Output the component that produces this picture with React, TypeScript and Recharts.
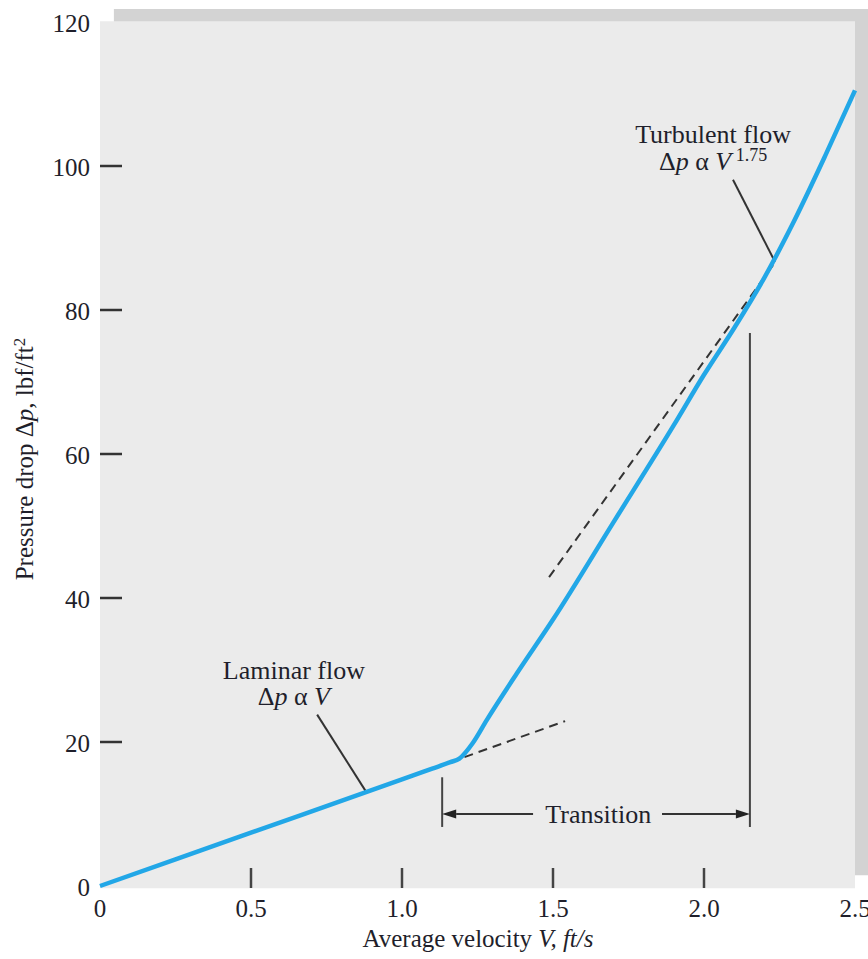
import React from 'react';
import { LineChart, Line, XAxis, YAxis, ReferenceArea, ReferenceLine, ReferenceDot } from 'recharts';

// Measured pipe-flow curve: velocity (ft/s) vs pressure drop (lbf/ft²)
const velocity = [0, 0.5, 1.0, 1.1, 1.16, 1.19, 1.235, 1.28, 1.38, 1.5, 1.7, 1.9, 2.0, 2.1, 2.2, 2.3, 2.4, 2.5];
const pressureDrop = [0, 7.4, 14.8, 16.3, 17.2, 17.7, 19.9, 23, 29.5, 37, 50.5, 64, 71, 77.5, 84.5, 92.5, 101.3, 110.5];

const xTicks = [0, 0.5, 1.0, 1.5, 2.0, 2.5];
const xTickLabels = ['0', '0.5', '1.0', '1.5', '2.0', '2.5'];
const yTicks = [0, 20, 40, 60, 80, 100, 120];

// dashed asymptotes for the two regimes
const laminarAsymptote = [{ v: 1.16, dp: 17.2 }, { v: 1.54, dp: 22.9 }];
const turbulentAsymptote = [{ v: 1.487, dp: 42.9 }, { v: 2.235, dp: 86.6 }];

// callout leaders
const laminarLeader = [{ v: 0.719, dp: 23.8 }, { v: 0.884, dp: 12.9 }];
const turbulentLeader = [{ v: 2.096, dp: 98.1 }, { v: 2.235, dp: 86.7 }];

// transition bracket
const transitionStart = 1.133;
const transitionEnd = 2.152;
const transitionStartTop = 15.1;
const transitionEndTop = 76.8;
const bracketBottom = 8.2;
const arrowLevel = 10;
const arrowInnerLeft = 1.434;
const arrowInnerRight = 1.861;

const curveData = velocity.map((v, i) => ({ v, dp: pressureDrop[i] }));

const FONT = '"Liberation Serif", "Times New Roman", serif';
const INK = '#1f1f2b';
const PLOT_LEFT = 100;
const PLOT_BOTTOM = 886;

const YTick = (props: any) => {
  const { y, payload } = props;
  const v = payload.value;
  return (
    <g>
      <text x={90} y={y + 9.5} textAnchor="end" fontFamily={FONT} fontSize={25} fill={INK}>
        {v}
      </text>
      {v !== 0 && v !== 120 && (
        <line x1={PLOT_LEFT} x2={PLOT_LEFT + 22} y1={y} y2={y} stroke="#333" strokeWidth={2.5} />
      )}
    </g>
  );
};

const XTick = (props: any) => {
  const { x, payload } = props;
  const v = payload.value;
  const label = xTickLabels[xTicks.indexOf(v)];
  return (
    <g>
      <text x={x} y={917} textAnchor="middle" fontFamily={FONT} fontSize={25} fill={INK}>
        {label}
      </text>
      {v !== 0 && v !== 2.5 && (
        <line x1={x} x2={x} y1={PLOT_BOTTOM - 18} y2={PLOT_BOTTOM + 2} stroke="#444" strokeWidth={2.5} />
      )}
    </g>
  );
};

const ArrowSegment = (props: any) => {
  const { x1, y1, x2, y2 } = props;
  const dir = Math.sign(x2 - x1);
  const len = 14;
  const half = 4.5;
  return (
    <g>
      <line x1={x1} y1={y1} x2={x2 - dir * len} y2={y2} stroke="#333" strokeWidth={1.8} />
      <polygon
        points={`${x2},${y2} ${x2 - dir * len},${y2 - half} ${x2 - dir * len},${y2 + half}`}
        fill="#222"
      />
    </g>
  );
};

const TurbulentLabel = (props: any) => {
  const { cx, cy } = props;
  return (
    <text x={cx} y={cy} textAnchor="middle" fontFamily={FONT} fontSize={26} fill={INK}>
      <tspan x={cx}>Turbulent flow</tspan>
      <tspan x={cx} dy={27}>Δ</tspan>
      <tspan fontStyle="italic">p</tspan>
      <tspan> α </tspan>
      <tspan fontStyle="italic">V</tspan>
      <tspan fontSize={18} dy={-9}> 1.75</tspan>
    </text>
  );
};

const LaminarLabel = (props: any) => {
  const { cx, cy } = props;
  return (
    <text x={cx} y={cy} textAnchor="middle" fontFamily={FONT} fontSize={26} fill={INK}>
      <tspan x={cx}>Laminar flow</tspan>
      <tspan x={cx} dy={26}>Δ</tspan>
      <tspan fontStyle="italic">p</tspan>
      <tspan> α </tspan>
      <tspan fontStyle="italic">V</tspan>
    </text>
  );
};

const TransitionLabel = (props: any) => {
  const { cx, cy } = props;
  return (
    <text x={cx} y={cy} textAnchor="middle" fontFamily={FONT} fontSize={26} fill={INK}>
      Transition
    </text>
  );
};

export default function App() {
  return (
    <div style={{ position: 'absolute', left: 0, top: 0, width: 868, height: 959, background: '#fff' }}>
      <LineChart width={868} height={959} data={curveData} margin={{ top: 22, right: 13, bottom: 0, left: 0 }}>
        <XAxis
          type="number"
          dataKey="v"
          domain={[0, 2.5]}
          ticks={xTicks}
          axisLine={false}
          tickLine={false}
          height={73}
          tick={<XTick />}
          interval={0}
        />
        <YAxis
          type="number"
          domain={[0, 120]}
          ticks={yTicks}
          axisLine={false}
          tickLine={false}
          width={100}
          tick={<YTick />}
          interval={0}
        />
        {/* panel with drop shadow */}
        <ReferenceArea x1={0.046} x2={2.543} y1={1.5} y2={121.8} fill="#d3d3d3" fillOpacity={1} stroke="none" ifOverflow="visible" />
        <ReferenceArea x1={0} x2={2.5} y1={-0.3} y2={120.1} fill="#ebebeb" fillOpacity={1} stroke="none" ifOverflow="visible" />

        <ReferenceLine segment={[{ x: laminarAsymptote[0].v, y: laminarAsymptote[0].dp }, { x: laminarAsymptote[1].v, y: laminarAsymptote[1].dp }]} stroke="#333" strokeWidth={2} strokeDasharray="9 6" ifOverflow="visible" />
        <ReferenceLine segment={[{ x: turbulentAsymptote[0].v, y: turbulentAsymptote[0].dp }, { x: turbulentAsymptote[1].v, y: turbulentAsymptote[1].dp }]} stroke="#333" strokeWidth={2} strokeDasharray="9 6" ifOverflow="visible" />

        <ReferenceLine segment={[{ x: laminarLeader[0].v, y: laminarLeader[0].dp }, { x: laminarLeader[1].v, y: laminarLeader[1].dp }]} stroke="#333" strokeWidth={2} ifOverflow="visible" />
        <ReferenceLine segment={[{ x: turbulentLeader[0].v, y: turbulentLeader[0].dp }, { x: turbulentLeader[1].v, y: turbulentLeader[1].dp }]} stroke="#333" strokeWidth={2} ifOverflow="visible" />

        <ReferenceLine segment={[{ x: transitionStart, y: transitionStartTop }, { x: transitionStart, y: bracketBottom }]} stroke="#444" strokeWidth={2} ifOverflow="visible" />
        <ReferenceLine segment={[{ x: transitionEnd, y: transitionEndTop }, { x: transitionEnd, y: bracketBottom }]} stroke="#444" strokeWidth={2} ifOverflow="visible" />
        <ReferenceLine segment={[{ x: arrowInnerLeft, y: arrowLevel }, { x: transitionStart, y: arrowLevel }]} shape={ArrowSegment} ifOverflow="visible" />
        <ReferenceLine segment={[{ x: arrowInnerRight, y: arrowLevel }, { x: transitionEnd, y: arrowLevel }]} shape={ArrowSegment} ifOverflow="visible" />

        <Line
          type="monotone"
          dataKey="dp"
          stroke="#22a7e7"
          strokeWidth={4.5}
          dot={false}
          activeDot={false}
          isAnimationActive={false}
        />

        <ReferenceDot x={2.03} y={103.2} r={0} shape={TurbulentLabel} ifOverflow="visible" />
        <ReferenceDot x={0.642} y={28.75} r={0} shape={LaminarLabel} ifOverflow="visible" />
        <ReferenceDot x={1.65} y={8.75} r={0} shape={TransitionLabel} ifOverflow="visible" />

        {/* axis titles */}
        <text x={478} y={947} textAnchor="middle" fontFamily={FONT} fontSize={25} fill={INK}>
          Average velocity <tspan fontStyle="italic">V, ft/s</tspan>
        </text>
        <text
          transform="translate(33, 459) rotate(-90)"
          textAnchor="middle"
          fontFamily={FONT}
          fontSize={25}
          fill={INK}
        >
          Pressure drop Δ<tspan fontStyle="italic">p</tspan>, lbf/ft<tspan fontSize={17} dy={-8}>2</tspan>
        </text>
      </LineChart>
    </div>
  );
}
